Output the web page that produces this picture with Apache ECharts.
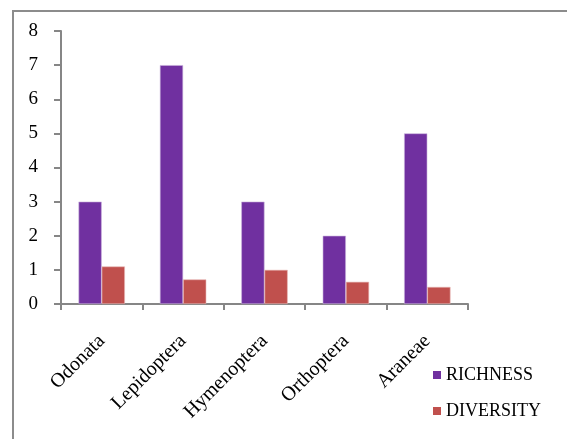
<!DOCTYPE html>
<html>
<head>
<meta charset="utf-8">
<script src="https://cdn.jsdelivr.net/npm/echarts@6/dist/echarts.min.js"></script>
<style>
  html, body { margin: 0; padding: 0; background: #fff; }
  #frame { position: absolute; left: 0; top: 0; width: 567px; height: 439px; }
  #edge { position: absolute; left: 12px; top: 10px; width: 555px; height: 429px;
          border-top: 2px solid #8c8c8c; border-left: 2px solid #8c8c8c; box-sizing: border-box; }
  #chart { position: absolute; left: 0; top: 0; width: 567px; height: 439px; }
</style>
</head>
<body>
<div id="frame">
  <div id="edge"></div>
  <div id="chart"></div>
</div>
<script>
// Insect orders and their species richness / diversity index
const orders = ['Odonata', 'Lepidoptera', 'Hymenoptera', 'Orthoptera', 'Araneae'];
const richness = [3, 7, 3, 2, 5];
const diversity = [1.1, 0.72, 1.0, 0.65, 0.5];
const yTicks = { min: 0, max: 8, step: 1 };

const font = '"Liberation Serif", "Times New Roman", serif';
const axisGray = '#868686';

const chart = echarts.init(document.getElementById('chart'), null, { renderer: 'canvas' });
chart.setOption({
  backgroundColor: 'transparent',
  animation: false,
  grid: { left: 61, right: 99, top: 31, bottom: 135, containLabel: false },
  legend: {
    orient: 'vertical',
    left: 433,
    top: 366,
    padding: 0,
    itemWidth: 8,
    itemHeight: 8,
    itemGap: 18,
    icon: 'rect',
    itemStyle: { borderWidth: 0 },
    textStyle: { fontFamily: font, fontSize: 18, color: '#000' },
    data: ['RICHNESS', 'DIVERSITY']
  },
  xAxis: {
    type: 'category',
    data: orders,
    axisLine: { lineStyle: { color: axisGray, width: 2 } },
    axisTick: { show: true, length: 6, lineStyle: { color: axisGray, width: 2 } },
    axisLabel: {
      rotate: 45,
      interval: 0,
      margin: 34,
      fontFamily: font,
      fontSize: 20,
      color: '#000'
    }
  },
  yAxis: {
    type: 'value',
    min: yTicks.min,
    max: yTicks.max,
    interval: yTicks.step,
    axisLine: { show: true, lineStyle: { color: axisGray, width: 2 } },
    axisTick: { show: true, length: 7, lineStyle: { color: axisGray, width: 2 } },
    splitLine: { show: false },
    axisLabel: { margin: 23, fontFamily: font, fontSize: 19, color: '#000' }
  },
  series: [
    {
      name: 'RICHNESS',
      type: 'bar',
      data: richness,
      barGap: '0%',
      barCategoryGap: '43%',
      itemStyle: { color: '#7030A0', borderColor: '#c9b3dc', borderWidth: 0.6 }
    },
    {
      name: 'DIVERSITY',
      type: 'bar',
      data: diversity,
      itemStyle: { color: '#C0504D', borderColor: '#e8b9b7', borderWidth: 0.6 }
    }
  ]
});
</script>
</body>
</html>
